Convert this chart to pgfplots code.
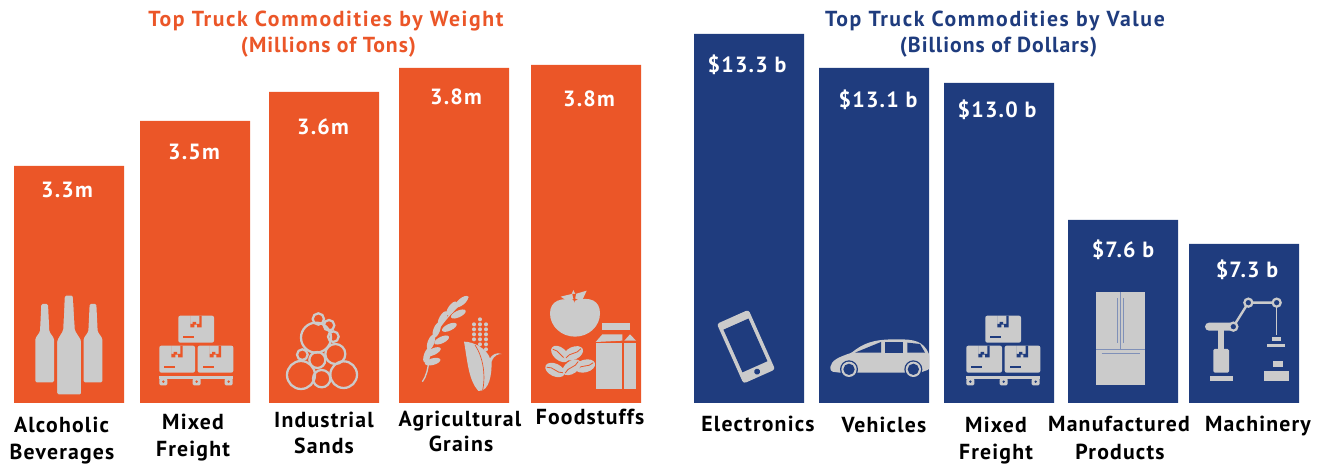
\documentclass[border=0pt]{standalone}
\usepackage{fontspec}
\setmainfont{PT Sans}[LetterSpace=5.5]
\newfontfamily\ttlfont{PT Sans}[LetterSpace=7.5]
\newfontfamily\subfont{PT Sans}[LetterSpace=4.5]
\usepackage{pgfplots}
\usepackage{pgfplotstable}
\pgfplotsset{compat=1.18}
\definecolor{org}{HTML}{EB5628}
\definecolor{nav}{HTML}{1F3C7E}
\definecolor{ico}{HTML}{CBCBCB}
\definecolor{mid}{HTML}{7F90B8}
% x = bar centre (px), h = bar height (px); the bars of
% the reference are not proportional to their printed values, which are in lab
\pgfplotstableread[col sep=comma]{
x,h,lab,dx,dy
69,237,3.3m,-2,32
195,282,3.5m,-1,39
324,311,3.6m,-1,43
454,335,3.8m,2,37
586,338,3.8m,3,42
}\weight
\pgfplotstableread[col sep=comma]{
x,h,lab,dx,dy
749,369,\$13.3 b,-2,39
874,335,\$13.1 b,4,40
999,320,\$13.0 b,-2,35
1123,183,\$7.6 b,0,38
1244,159,\$7.3 b,3,34
}\valuet
\pgfplotsset{chartbars/.style={
  hide axis, scale only axis, clip=false, ybar, bar width=82.5pt,
  ymin=0, ymax=403, height=302.25pt, anchor=south west,
  point meta=explicit symbolic,
  visualization depends on={\thisrow{dx} \as \dx},
  visualization depends on={\thisrow{dy} \as \dy},
  nodes near coords,
  every node near coord/.append style={anchor=base, text=white,
    font=\bfseries\fontsize{16.5}{18}\selectfont,
    xshift={\dx*0.75pt}, yshift={-\dy*0.75pt}, inner sep=0pt},
}}
% helpers: label at pixel position, baseline anchored
\newcommand{\lab}[3]{\node[anchor=base,inner sep=0pt,font=\bfseries\fontsize{16.3}{18}\selectfont] at (#1*0.75pt,{(466-#2)*0.75pt}) {#3};}
\newcommand{\ttl}[5]{\node[anchor=base,inner sep=0pt,text=#4,font=#5\bfseries\fontsize{16.3}{18}\selectfont] at (#1*0.75pt,{(466-#2)*0.75pt}) {#3};}
% one cardboard box, (#1,#2)=upper-left in zoom units; #3=background colour
\newcommand{\cbox}[3]{%
 \fill[ico,rounded corners=1.5pt] (#1,#2) rectangle ++(107,81);
 \fill[#3] ({#1+36},#2) -- ++(0,35) -- ++(12,0) -- ++(0,-8) -- ++(8,0) -- ++(0,8) -- ++(14,0) -- ++(0,-35) -- ++(-7,0) -- ++(0,25) -- ++(-10,0) -- ++(0,-6) -- ++(-10,0) -- ++(0,6) -- ++(-7,0) -- ++(0,-25) -- cycle;
 \fill[#3] ({#1+15},{#2+62}) rectangle ++(33,6);
}
\newcommand{\pallet}[3]{%
 \cbox{#1+57}{#2}{#3}
 \cbox{#1}{#2+90}{#3}
 \cbox{#1+115}{#2+90}{#3}
 \fill[ico] (#1,#2+181) rectangle ++(222,10);
 \foreach \fx in {0,100,196}{
   \fill[ico,rounded corners=1pt] (#1+\fx,#2+188) rectangle ++(24,21);
   \fill[#3] (#1+\fx+12,#2+198) circle (4);}
}
\begin{document}
\begin{tikzpicture}
\path[use as bounding box] (0,0) rectangle (992.25pt,349.5pt);
\begin{axis}[chartbars, at={(0pt,47.25pt)}, width=495pt, xmin=0, xmax=660]
\addplot[fill=org, draw=none] table[x=x, y=h, meta=lab] {\weight};
\end{axis}
\begin{axis}[chartbars, at={(495pt,47.25pt)}, width=497.25pt, xmin=660, xmax=1323]
\addplot[fill=nav, draw=none] table[x=x, y=h, meta=lab] {\valuet};
\end{axis}
% titles
\ttl{326}{27}{Top Truck Commodities by Weight}{org}{\ttlfont}
\ttl{328.5}{53}{(Millions of Tons)}{org}{\subfont}
\ttl{995}{27}{Top Truck Commodities by Value}{nav}{\ttlfont}
\ttl{998.5}{53}{(Billions of Dollars)}{nav}{\subfont}
% category labels
\lab{61.5}{433}{Alcoholic}\lab{62}{460}{Beverages}
\lab{193}{430}{Mixed}\lab{193}{457}{Freight}
\lab{324}{428}{Industrial}\lab{324}{454}{Sands}
\lab{460}{427}{Agricultural}\lab{461}{452}{Grains}
\lab{590}{425}{Foodstuffs}
\lab{758}{432}{Electronics}
\lab{884}{433}{Vehicles}
\lab{996}{433}{Mixed}\lab{996}{460}{Freight}
\lab{1119}{432}{Manufactured}\lab{1120}{460}{Products}
\lab{1258}{432}{Machinery}
% ---- icons: zoom units, x=px/3 offset, y from px 280 down
\begin{scope}[x=0.25pt,y=-0.25pt,yshift=139.5pt]
 % bottles
 \foreach \cx/\ty/\by/\sh in {134/72/307/175, 279/72/307/175}{
  \fill[ico,rounded corners=1pt] (\cx-10,\ty) -- (\cx+10,\ty) -- (\cx+14,\sh-20) -- (\cx+28,\sh) -- (\cx+28,\by) -- (\cx-28,\by) -- (\cx-28,\sh) -- (\cx-14,\sh-20) -- cycle;}
 \fill[ico,draw=org,line width=0.8pt,rounded corners=1.2pt] (193,45) -- (220,45) -- (226,150) -- (245,180) -- (245,345) -- (170,345) -- (170,180) -- (188,150) -- cycle;
 % pallet of boxes, weight
 \pallet{478}{107}{org}
 % sands
 \foreach \cx/\cy/\r in {955/117/17,987/136/16,1000/170/16,948/173/45,1006/222/30,907/224/16,952/240/24,903/285/42,965/296/26,1031/284/40}{
  \draw[ico,line width=1.7pt] (\cx,\cy) circle (\r);}
 % wheat (offset 1170 zoom units = 390 px)
 \begin{scope}[xshift=292.5pt]
  \draw[ico,line width=1pt] (97,305) .. controls (125,265) and (110,220) .. (125,190) .. controls (140,140) and (190,90) .. (235,50);
  \foreach \lx/\ly/\a in {215/65/40,185/85/55,205/102/25,158/115/60,178/142/25,140/150/70,155/180/25,123/187/70,130/215/25,112/225/70,128/245/15}{
   \fill[ico,rotate around={\a:(\lx,\ly)}] (\lx,\ly) ellipse (24 and 10);}
  % corn
  \foreach \dy/\dn/\ds in {118/1/270,133/3/252,148/3/252,163/3/252,178/3/252,193/2/270,208/1/288}{
   \foreach \k in {1,...,\dn}{\fill[ico] ({\ds+(\k-1)*18},\dy) circle (6);}}
  \fill[ico] (222,185) .. controls (232,240) and (235,300) .. (265,333) .. controls (300,335) and (305,280) .. (305,245) .. controls (312,225) and (325,222) .. (335,222) .. controls (320,215) and (305,225) .. (300,235) .. controls (290,205) and (250,185) .. cycle;
  \draw[org,line width=0.5pt] (255,195) .. controls (285,240) and (285,300) .. (278,330);
  % foodstuffs: tomato, beans, carton
  \fill[ico] (555,62) .. controls (600,48) and (630,62) .. (630,100) .. controls (630,140) and (595,170) .. (555,170) .. controls (515,170) and (480,140) .. (480,100) .. controls (480,62) and (515,50) .. cycle;
  \fill[ico] (512,50) -- (545,42) -- (550,30) -- (556,42) -- (590,32) -- (575,65) -- (555,55) -- (535,65) -- cycle;
  \fill[org] (547,42) -- (553,68) -- (558,42) -- cycle;
  \foreach \bx/\by/\ba in {495/270/-25,510/222/-40,550/220/25,585/258/15,545/262/35}{
   \fill[ico,rotate around={\ba:(\bx,\by)}] (\bx,\by) ellipse (31 and 19);
   \draw[org,line width=0.6pt,rotate around={\ba:(\bx,\by)}] (\bx-26,\by+3) .. controls (\bx-8,\by-8) and (\bx+8,\by+8) .. (\bx+26,\by-3);}
  \fill[ico] (637,130) rectangle (720,150);
  \fill[ico] (617,186) -- (637,163) -- (697,163) -- (697,182) -- (617,186) -- cycle;
  \fill[ico] (703,182) -- (720,163) -- (738,182) -- cycle;
  \fill[ico] (617,188) rectangle (697,327);
  \fill[ico] (703,188) rectangle (738,327);
 \end{scope}
 % phone (offset 390 px)
 \begin{scope}[xshift=292.5pt]
  \begin{scope}[shift={(1068,200)},rotate=24]
   \fill[ico,rounded corners=2pt] (-52,-98) rectangle (52,98);
   \fill[nav] (-41,-74) rectangle (41,66);
   \fill[nav] (0,82) circle (9);
  \end{scope}
 \end{scope}
 % offset 810 px
 \begin{scope}[xshift=607.5pt]
  % car
  \fill[ico,rounded corners=1pt] (60,265) .. controls (65,240) and (85,232) .. (125,218) .. controls (160,190) and (190,178) .. (260,178) .. controls (310,178) and (340,182) .. (358,225) -- (358,268) -- (330,278) -- (90,278) -- (65,275) -- cycle;
  \fill[nav] (135,218) -- (213,186) -- (213,218) -- cycle;
  \fill[nav] (225,186) -- (280,186) -- (280,218) -- (225,218) -- cycle;
  \fill[nav] (292,188) -- (330,192) -- (345,218) -- (292,218) -- cycle;
  \foreach \wx in {117,310}{
   \fill[nav] (\wx,268) circle (27);
   \fill[ico] (\wx,268) circle (23);
   \fill[nav] (\wx,268) circle (17);}
  % boxes, value
  \pallet{469}{107}{nav}
  % fridge
  \fill[ico] (858,37) rectangle (1005,314);
  \draw[mid,line width=0.5pt] (932,37) -- (932,207);
  \draw[mid,line width=0.6pt] (858,208) -- (1005,208);
  \draw[mid,line width=1pt] (875,220) -- (990,220);
  \draw[mid,line width=1.2pt] (923,55) -- (923,190);
  \draw[mid,line width=1.2pt] (941,55) -- (941,190);
  % robot
  \fill[ico] (1200,287) rectangle (1270,303);
  \fill[ico,rounded corners=1pt] (1210,207) rectangle (1257,278);
  \fill[ico] (1225,150) rectangle (1243,207);
  \fill[ico,rounded corners=3pt] (1185,128) rectangle (1272,152);
  \draw[ico,line width=1.8pt] (1270,140) -- (1315,68) -- (1400,68);
  \draw[ico,line width=1.2pt] (1400,68) -- (1400,165);
  \foreach \jx/\jy/\jr in {1270/140/12,1315/68/12,1400/68/12}{
   \fill[nav] (\jx,\jy) circle (\jr);
   \draw[ico,line width=1.7pt] (\jx,\jy) circle (\jr);}
  \fill[ico] (1385,172) rectangle (1412,182);
  \fill[ico] (1372,192) rectangle (1425,202);
  \fill[ico] (1390,243) rectangle (1420,262);
  \fill[ico] (1362,272) rectangle (1436,303);
 \end{scope}
\end{scope}
\end{tikzpicture}
\end{document}
